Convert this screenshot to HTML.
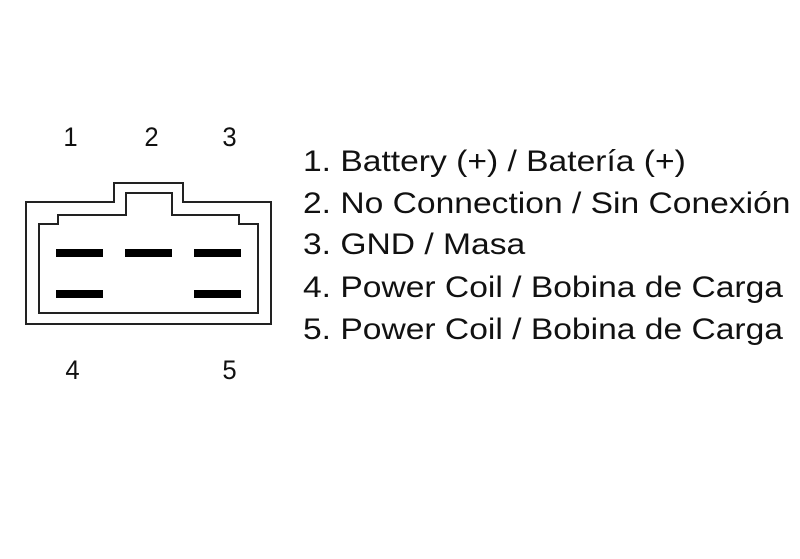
<!DOCTYPE html>
<html><head><meta charset="utf-8"><style>
html,body{margin:0;padding:0;background:#fff;}
body{width:800px;height:559px;position:relative;overflow:hidden;font-family:"Liberation Sans",sans-serif;color:#111;}
.n{position:absolute;font-size:27px;line-height:27px;transform:scaleX(0.95);}
.t{position:absolute;left:303px;font-size:30px;line-height:32px;white-space:nowrap;transform:scaleX(1.12);transform-origin:0 0;}
</style></head><body>
<svg width="800" height="559" style="position:absolute;left:0;top:0">
<path d="M26 202 H114 V183 H183 V202 H271 V324 H26 Z" fill="none" stroke="#222" stroke-width="2"/>
<path d="M39 224 H58 V215 H126 V193 H172 V215 H239 V224 H258 V313 H39 Z" fill="none" stroke="#222" stroke-width="2"/>
<g fill="#000">
<rect x="56" y="249" width="47" height="8"/>
<rect x="125" y="249" width="47" height="8"/>
<rect x="194" y="249" width="47" height="8"/>
<rect x="56" y="290" width="47" height="8"/>
<rect x="194" y="290" width="47" height="8"/>
</g>
</svg>
<div class="n" style="left:63px;top:124px">1</div>
<div class="n" style="left:144px;top:124px">2</div>
<div class="n" style="left:222px;top:124px">3</div>
<div class="n" style="left:65px;top:357px">4</div>
<div class="n" style="left:222px;top:357px">5</div>
<div class="t" style="top:146px">1. Battery (+) / Batería (+)</div>
<div class="t" style="top:188px">2. No Connection / Sin Conexión</div>
<div class="t" style="top:229px">3. GND / Masa</div>
<div class="t" style="top:272px">4. Power Coil / Bobina de Carga</div>
<div class="t" style="top:314px">5. Power Coil / Bobina de Carga</div>
</body></html>
